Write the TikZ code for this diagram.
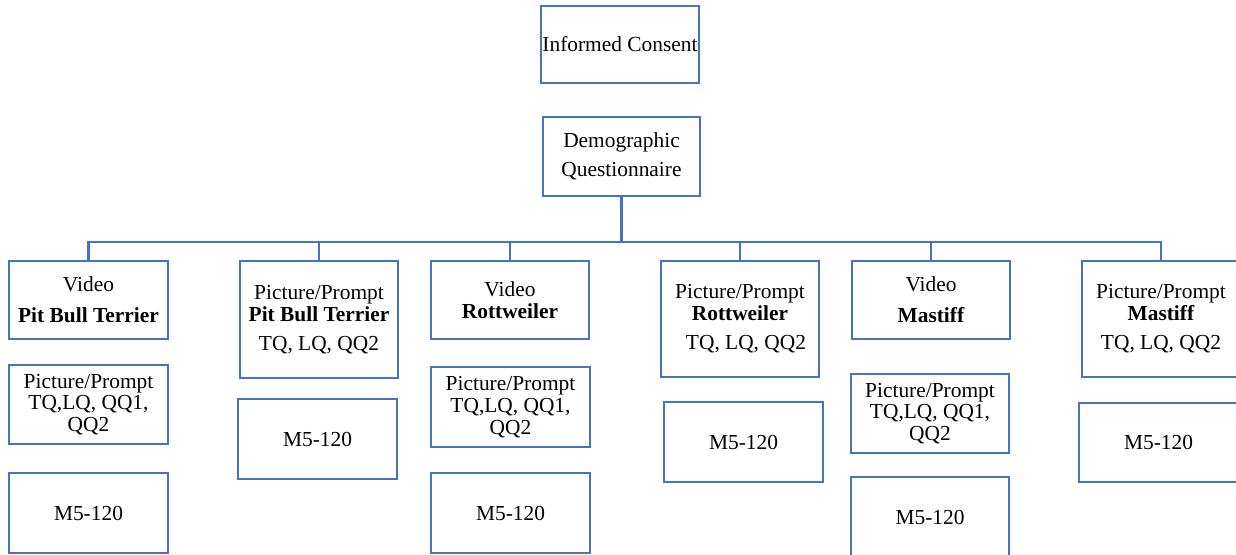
\documentclass[tikz,border=0pt]{standalone}
\usepackage{fontspec}
\setmainfont{Liberation Serif}
\definecolor{boxblue}{HTML}{4472C4}
\tikzset{
  box/.style={draw=boxblue, line width=1.3pt, inner sep=0pt, align=center,
    font=\fontsize{10.7}{10.9}\selectfont, text=black},
  link/.style={draw=boxblue, line width=1.2pt},
}
\newcommand\pbox[6]{%
  \node[box, minimum width={(#4-#2)*0.5pt}, minimum height={(#5-#3)*0.5pt}]
    (#1) at ({(#2+#4)/2},{(#3+#5)/2}) {#6};}
\begin{document}
\begin{tikzpicture}[x=0.5pt,y=-0.5pt]
\useasboundingbox (0,0) rectangle (1236,555);
\fill[white] (0,0) rectangle (1236,555);
\clip (0,0) rectangle (1236,555);
% top
\pbox{ic}{541}{6}{699}{83}{Informed Consent}
\pbox{dq}{543}{117}{700}{196}{Demographic\\[3.6pt]Questionnaire}
% column 1
\pbox{v1}{9}{261}{168}{339}{Video\\[4.6pt]\textbf{Pit Bull Terrier}}
\pbox{p1}{9}{365}{168}{444}{Picture/Prompt\\TQ,LQ, QQ1,\\QQ2}
\pbox{m1}{9}{473}{168}{553}{M5-120}
% column 2
\pbox{pp1}{240}{261}{398}{378}{Picture/Prompt\\\textbf{Pit Bull Terrier}\\[3.6pt]TQ, LQ, QQ2}
\pbox{mm1}{238}{399}{397}{479}{M5-120}
% column 3
\pbox{v2}{431}{261}{589}{339}{Video\\\textbf{Rottweiler}}
\pbox{p2}{431}{367}{590}{447}{Picture/Prompt\\TQ,LQ, QQ1,\\QQ2}
\pbox{m2}{431}{473}{590}{553}{M5-120}
% column 4
\pbox{pp2}{661}{261}{819}{377}{Picture/Prompt\\\textbf{Rottweiler}\\[3.6pt]\hspace*{6pt}TQ, LQ, QQ2}
\pbox{mm2}{664}{402}{823}{482}{M5-120}
% column 5
\pbox{v3}{852}{261}{1010}{339}{Video\\[4.6pt]\textbf{Mastiff}}
\pbox{p3}{851}{374}{1009}{453}{Picture/Prompt\\TQ,LQ, QQ1,\\QQ2}
\pbox{m3}{851}{477}{1009}{557}{M5-120}
% column 6
\pbox{pp3}{1082}{261}{1240}{377}{Picture/Prompt\\\textbf{Mastiff}\\[3.6pt]TQ, LQ, QQ2}
\pbox{mm3}{1079}{403}{1238}{482}{M5-120}
% connectors
\coordinate (bus) at (622,242);
\draw[link, line width=1.6pt] (dq.south) -- (dq.south |- bus);
\foreach \n in {v1,pp1,v2,pp2,v3,pp3}
  \draw[link] (\n.north) |- (bus);
\end{tikzpicture}
\end{document}
